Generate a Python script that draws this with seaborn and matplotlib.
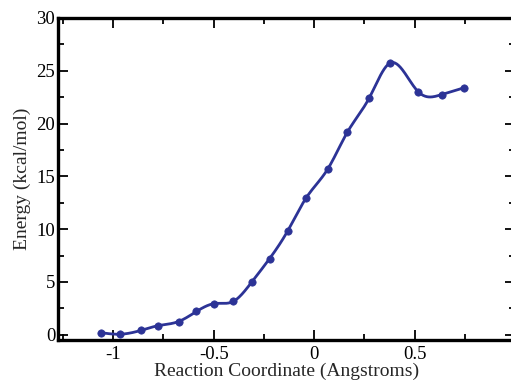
import numpy as np
import pandas as pd
import matplotlib
matplotlib.use('Agg')
import matplotlib.pyplot as plt
import seaborn as sns
from matplotlib.ticker import MultipleLocator

# values
coord = [-1.063, -0.965, -0.864, -0.778, -0.675, -0.586, -0.496, -0.403,
         -0.310, -0.222, -0.131, -0.040, 0.068, 0.166, 0.275, 0.380,
         0.519, 0.635, 0.748]
energy = [0.2, 0.05, 0.4, 0.85, 1.25, 2.2, 2.95, 3.15,
          5.0, 7.2, 9.85, 12.95, 15.7, 19.2, 22.45, 25.75,
          23.0, 22.75, 23.4]

x_ticks = [-1, -0.5, 0, 0.5]
x_tick_labels = ['-1', '-0.5', '0', '0.5']
y_ticks = [0, 5, 10, 15, 20, 25, 30]

LINE_COLOR = '#2c3396'


def natural_spline(x, y, n=400):
    # natural cubic spline through the points, for the smooth curve
    x = np.asarray(x, float)
    y = np.asarray(y, float)
    h = np.diff(x)
    m = len(x)
    A = np.zeros((m, m))
    b = np.zeros(m)
    A[0, 0] = A[-1, -1] = 1
    for i in range(1, m - 1):
        A[i, i - 1] = h[i - 1]
        A[i, i] = 2 * (h[i - 1] + h[i])
        A[i, i + 1] = h[i]
        b[i] = 3 * ((y[i + 1] - y[i]) / h[i] - (y[i] - y[i - 1]) / h[i - 1])
    c = np.linalg.solve(A, b)
    xs = np.linspace(x[0], x[-1], n)
    idx = np.clip(np.searchsorted(x, xs) - 1, 0, m - 2)
    dx = xs - x[idx]
    hi = h[idx]
    bb = (y[idx + 1] - y[idx]) / hi - hi * (2 * c[idx] + c[idx + 1]) / 3
    dd = (c[idx + 1] - c[idx]) / (3 * hi)
    ys = y[idx] + bb * dx + c[idx] * dx ** 2 + dd * dx ** 3
    return xs, ys


sns.set_style('ticks')
plt.rcParams['font.family'] = ['Liberation Serif', 'DejaVu Serif']
plt.rcParams['axes.unicode_minus'] = False

df = pd.DataFrame({'coord': coord, 'energy': energy})
sx, sy = natural_spline(coord, energy)
smooth = pd.DataFrame({'coord': sx, 'energy': sy})

fig = plt.figure(figsize=(5.11, 3.81), dpi=100)
W, H = 511, 381
ax = fig.add_axes([58 / W, 1 - 340 / H, (515 - 58) / W, (340 - 18) / H])

sns.lineplot(data=smooth, x='coord', y='energy', ax=ax, color=LINE_COLOR,
             linewidth=2.0, sort=False)
sns.scatterplot(data=df, x='coord', y='energy', ax=ax, color=LINE_COLOR,
                s=28, marker='o', edgecolor=LINE_COLOR, linewidth=0.5,
                zorder=3)

ax.set_xlim(-1.275, 1.0)
ax.set_ylim(-0.5, 30)
ax.set_xticks(x_ticks)
ax.set_xticklabels(x_tick_labels)
ax.set_yticks(y_ticks)
ax.xaxis.set_minor_locator(MultipleLocator(0.25))
ax.yaxis.set_minor_locator(MultipleLocator(2.5))

ax.tick_params(which='both', direction='in', top=True, right=True,
               width=1.3, colors='black', labelsize=13.5)
ax.tick_params(which='major', length=7)
ax.tick_params(which='minor', length=4)
ax.tick_params(axis='x', pad=4)
ax.tick_params(axis='y', pad=2)

for sp in ax.spines.values():
    sp.set_visible(True)
    sp.set_linewidth(2.4)
    sp.set_color('black')

ax.set_xlabel('Reaction Coordinate (Angstroms)', fontsize=14, labelpad=0)
ax.set_ylabel('Energy (kcal/mol)', fontsize=14, labelpad=4)

fig.savefig('out.png', dpi=100)
